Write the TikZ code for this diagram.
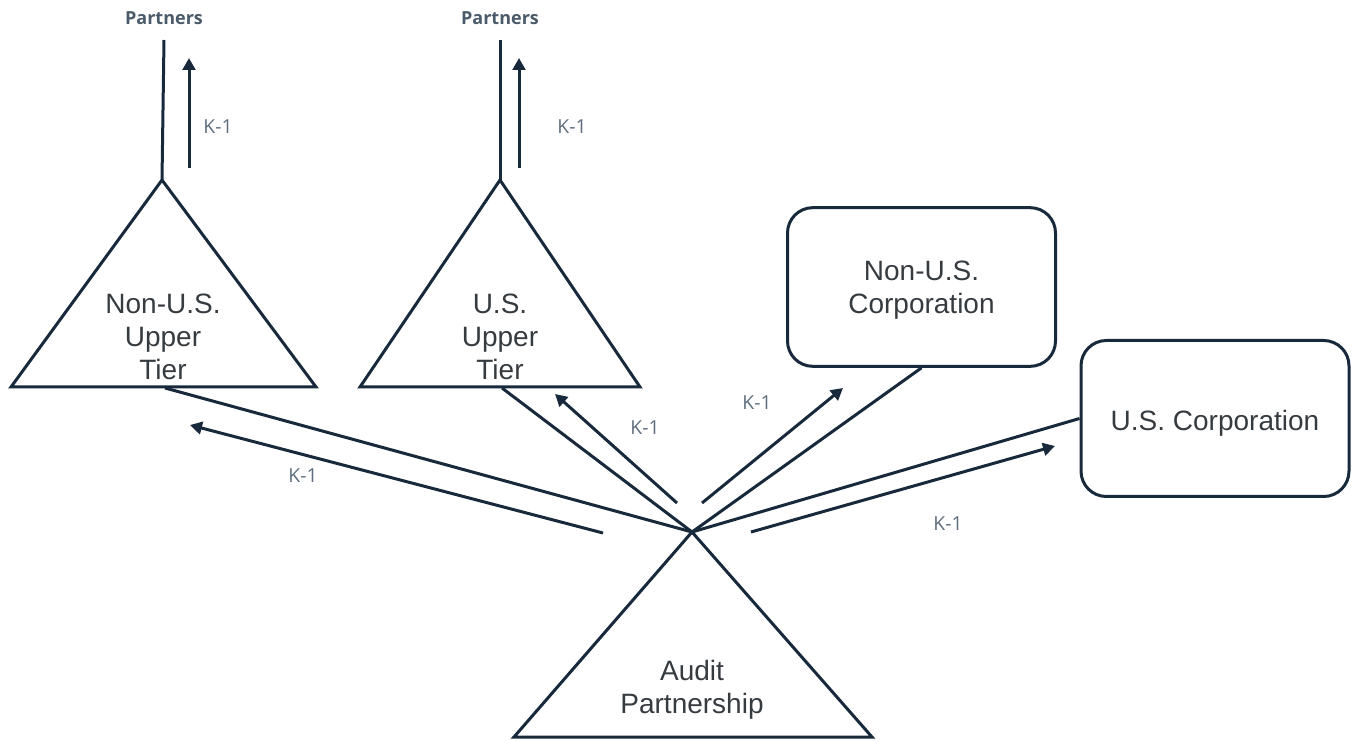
\documentclass[tikz,border=0pt]{standalone}
\usepackage{fontspec}
\setmainfont{Liberation Sans}
\newfontfamily\smallfont{Open Sans}
\usetikzlibrary{arrows.meta}
\definecolor{inkline}{HTML}{17293A}
\definecolor{inktext}{HTML}{363B40}
\definecolor{inkpartner}{HTML}{4A5A6B}
\definecolor{inkkone}{HTML}{5E6E7E}
\tikzset{
  shapeline/.style={line width=2.25pt, draw=inkline, line join=miter},
  kline/.style={line width=2.25pt, draw=inkline, -{Triangle[length=9pt,width=9.5pt]}},
  bigtext/.style={text=inktext, align=center, font=\fontsize{21}{25}\selectfont},
  corpbox/.style={shapeline, rounded corners=19pt, minimum width=201pt, minimum height=119pt, inner sep=0pt},
  partnerlabel/.style={text=inkpartner, font=\smallfont\bfseries\fontsize{13.5}{16}\selectfont},
  konelabel/.style={text=inkkone, font=\smallfont\fontsize{14.5}{17}\selectfont}
}
\begin{document}
\begin{tikzpicture}[x=0.75pt,y=-0.75pt]
			%%%%% START %%%%%
			\useasboundingbox (0,0) rectangle (1357,741);
			
			% upper tier triangles
			\coordinate (ntTop) at (162,180);
			\coordinate (utTop) at (500,180);
			\draw[shapeline] (ntTop) -- (316,387) -- (11,387) -- cycle;
			\draw[shapeline] (utTop) -- (640,387) -- (360,387) -- cycle;
			\node[bigtext] (ntText) at (163,337) {Non-U.S.\\Upper\\Tier};
			\node[bigtext] (utText) at (500,337) {U.S.\\Upper\\Tier};
			
			% audit partnership
			\coordinate (apTop) at (692,532);
			\draw[shapeline] (apTop) -- (872,737) -- (514,737) -- cycle;
			\node[bigtext] (apText) at (692,690) {Audit\\Partnership};
			
			% corporations
			\node[corpbox] (ncorp) at (921.5,287) {};
			\node[corpbox, minimum height=117pt] (uscorp) at (1215,418.5) {};
			\node[bigtext] (ncorpText) at ([yshift=-2.5pt]ncorp.center) {Non-U.S.\\Corporation};
			\node[bigtext] (uscorpText) at ([yshift=-3.5pt]uscorp.center) {U.S. Corporation};
			
			% partners on top
			\node[partnerlabel] (ntPartners) at (164,18) {Partners};
			\node[partnerlabel] (utPartners) at (500,18) {Partners};
			\coordinate (ntLineTop) at (164,40);
			\coordinate (utLineTop) at (500,40);
			\draw[shapeline] (ntTop) -- (ntLineTop);
			\draw[shapeline] (utTop) -- (utLineTop);
			
			\coordinate (ntUpA) at (189,168);
			\coordinate (ntUpB) at (189,58);
			\coordinate (utUpA) at (519,168);
			\coordinate (utUpB) at (519,58);
			\draw[kline] (ntUpA) -- (ntUpB);
			\draw[kline] (utUpA) -- (utUpB);
			\node[konelabel] (kNtTop) at (218,127) {K-1};
			\node[konelabel] (kUtTop) at (572,127) {K-1};
			
			% ownership lines from the audit partnership
			\coordinate (ntBase) at (165,388);
			\coordinate (utBase) at (502,388);
			\draw[shapeline] (apTop) -- (ntBase);
			\draw[shapeline] (apTop) -- (utBase);
			\draw[shapeline] (apTop) -- (ncorp.south);
			\draw[shapeline] (apTop) -- (uscorp.west);
			
			% K-1 arrows
			\coordinate (kNtA) at (603,533);
			\coordinate (kNtB) at (190,425);
			\coordinate (kUtA) at (677,503);
			\coordinate (kUtB) at (555,394);
			\coordinate (kNcA) at (702,503);
			\coordinate (kNcB) at (843,388);
			\coordinate (kUsA) at (751,532);
			\coordinate (kUsB) at (1055,446);
			\draw[kline] (kNtA) -- (kNtB);
			\draw[kline] (kUtA) -- (kUtB);
			\draw[kline] (kNcA) -- (kNcB);
			\draw[kline] (kUsA) -- (kUsB);
			\node[konelabel] (kNt) at (303,476) {K-1};
			\node[konelabel] (kUt) at (645,428) {K-1};
			\node[konelabel] (kNc) at (757,403) {K-1};
			\node[konelabel] (kUs) at (948,524) {K-1};
			
			%%%%% END %%%%%
\end{tikzpicture}
\end{document}
